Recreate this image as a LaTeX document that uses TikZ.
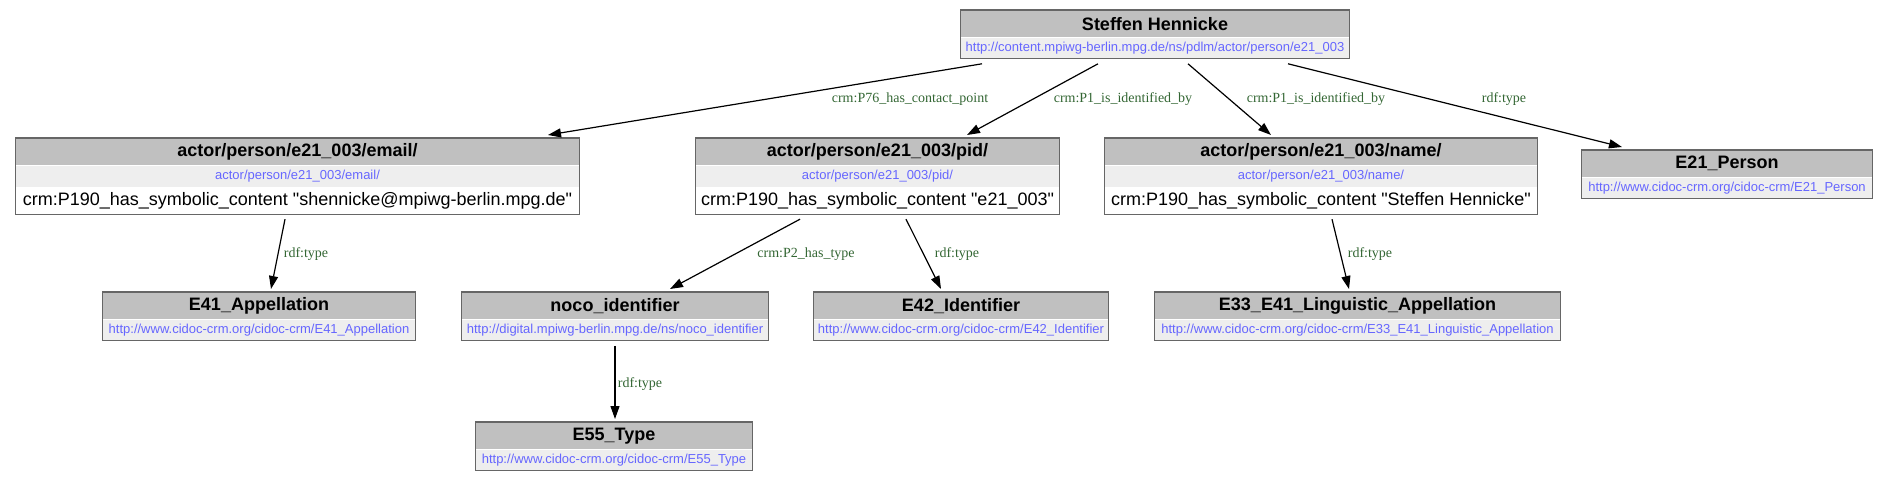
\documentclass[tikz,border=0pt]{standalone}
\usepackage{fontspec}
\setmainfont{Liberation Serif}
\newfontfamily\hfont{Liberation Sans}
\usetikzlibrary{positioning,arrows.meta}

\definecolor{hdrgray}{HTML}{C0C0C0}
\definecolor{rowgray}{HTML}{EEEEEE}
\definecolor{boxgray}{HTML}{666666}
\definecolor{urlblue}{HTML}{6666FF}
\definecolor{lblgreen}{HTML}{336633}

\begin{document}
\begin{tikzpicture}[x=1pt, y=-1pt, >={Triangle[length=13pt,width=9pt]},
    hdr/.style={fill=hdrgray, anchor=north, minimum height=27pt, inner sep=0pt,
      font=\hfont\bfseries\fontsize{18}{20}\selectfont},
    url/.style={fill=rowgray, minimum height=21pt, inner sep=0pt, text=urlblue,
      font=\hfont\fontsize{13}{15}\selectfont},
    lit/.style={fill=white, minimum height=27pt, inner sep=0pt,
      font=\hfont\fontsize{18}{20}\selectfont},
    frame/.style={draw=boxgray, line width=1.2pt},
    edge/.style={->, line width=1.2pt},
    elabel/.style={text=lblgreen, inner sep=0pt, font=\fontsize{14}{16}\selectfont}]
    \useasboundingbox (0,0) rectangle (1887,481);

    % --- 1. 上段 (人物) ---
    \node[hdr, minimum width=388pt] (top-h) at (1155,10) {Steffen Hennicke};
    \node[url, minimum width=388pt, below=0pt of top-h] (top-u) {http://content.mpiwg-berlin.mpg.de/ns/pdlm/actor/person/e21\_003};
    \draw[frame] (top-h.north west) rectangle (top-u.south east);

    % --- 2. 中段 ---
    % email
    \node[hdr, minimum width=563pt] (email-h) at (297.5,138) {actor/person/e21\_003/email/};
    \node[url, minimum width=563pt, below=0pt of email-h] (email-u) {actor/person/e21\_003/email/};
    \node[lit, minimum width=563pt, below=0pt of email-u] (email-l) {crm:P190\_has\_symbolic\_content "shennicke@mpiwg-berlin.mpg.de"};
    \draw[frame] (email-h.north west) rectangle (email-l.south east);

    % pid
    \node[hdr, minimum width=363pt] (pid-h) at (877.5,138) {actor/person/e21\_003/pid/};
    \node[url, minimum width=363pt, below=0pt of pid-h] (pid-u) {actor/person/e21\_003/pid/};
    \node[lit, minimum width=363pt, below=0pt of pid-u] (pid-l) {crm:P190\_has\_symbolic\_content "e21\_003"};
    \draw[frame] (pid-h.north west) rectangle (pid-l.south east);

    % name
    \node[hdr, minimum width=432pt] (name-h) at (1321,138) {actor/person/e21\_003/name/};
    \node[url, minimum width=432pt, below=0pt of name-h] (name-u) {actor/person/e21\_003/name/};
    \node[lit, minimum width=432pt, below=0pt of name-u] (name-l) {crm:P190\_has\_symbolic\_content "Steffen Hennicke"};
    \draw[frame] (name-h.north west) rectangle (name-l.south east);

    % E21
    \node[hdr, minimum width=290pt] (person-h) at (1727,150) {E21\_Person};
    \node[url, minimum width=290pt, below=0pt of person-h] (person-u) {http://www.cidoc-crm.org/cidoc-crm/E21\_Person};
    \draw[frame] (person-h.north west) rectangle (person-u.south east);

    % --- 3. 下段 (型) ---
    \node[hdr, minimum width=312pt] (appel-h) at (259,292) {E41\_Appellation};
    \node[url, minimum width=312pt, below=0pt of appel-h] (appel-u) {http://www.cidoc-crm.org/cidoc-crm/E41\_Appellation};
    \draw[frame] (appel-h.north west) rectangle (appel-u.south east);

    \node[hdr, minimum width=306pt] (noco-h) at (615,292) {noco\_identifier};
    \node[url, minimum width=306pt, below=0pt of noco-h] (noco-u) {http://digital.mpiwg-berlin.mpg.de/ns/noco\_identifier};
    \draw[frame] (noco-h.north west) rectangle (noco-u.south east);

    \node[hdr, minimum width=295pt] (ident-h) at (961,292) {E42\_Identifier};
    \node[url, minimum width=295pt, below=0pt of ident-h] (ident-u) {http://www.cidoc-crm.org/cidoc-crm/E42\_Identifier};
    \draw[frame] (ident-h.north west) rectangle (ident-u.south east);

    \node[hdr, minimum width=405pt] (ling-h) at (1357.5,292) {E33\_E41\_Linguistic\_Appellation};
    \node[url, minimum width=405pt, below=0pt of ling-h] (ling-u) {http://www.cidoc-crm.org/cidoc-crm/E33\_E41\_Linguistic\_Appellation};
    \draw[frame] (ling-h.north west) rectangle (ling-u.south east);

    \node[hdr, minimum width=276pt] (type-h) at (614,422) {E55\_Type};
    \node[url, minimum width=276pt, below=0pt of type-h] (type-u) {http://www.cidoc-crm.org/cidoc-crm/E55\_Type};
    \draw[frame] (type-h.north west) rectangle (type-u.south east);

    % --- 4. 矢印 (始点は枠の少し下, 先端は枠の少し上) ---
    \draw[edge] ([xshift=-173pt,yshift=-5pt]top-u.south) -- ([xshift=250.5pt,yshift=3pt]email-h.north);
    \draw[edge] ([xshift=-57pt,yshift=-5pt]top-u.south) -- ([xshift=89.5pt,yshift=3pt]pid-h.north);
    \draw[edge] ([xshift=33pt,yshift=-5pt]top-u.south) -- ([xshift=-50pt,yshift=3pt]name-h.north);
    \draw[edge] ([xshift=133pt,yshift=-5pt]top-u.south) -- ([xshift=-105pt,yshift=3pt]person-h.north);

    \draw[edge] ([xshift=-12.5pt,yshift=-5pt]email-l.south) -- ([xshift=12pt,yshift=3pt]appel-h.north);
    \draw[edge] ([xshift=-77.5pt,yshift=-5pt]pid-l.south) -- ([xshift=55pt,yshift=3pt]noco-h.north);
    \draw[edge] ([xshift=28.5pt,yshift=-5pt]pid-l.south) -- ([xshift=-20pt,yshift=3pt]ident-h.north);
    \draw[edge] ([xshift=11pt,yshift=-5pt]name-l.south) -- ([xshift=-8.5pt,yshift=3pt]ling-h.north);
    \draw[edge] ([yshift=-5pt]noco-u.south) -- ([xshift=1pt,yshift=3pt]type-h.north);

    % --- 5. ラベル ---
    \node[elabel] (l-contact) at (910,99) {crm:P76\_has\_contact\_point};
    \node[elabel] (l-pid) at (1123,99) {crm:P1\_is\_identified\_by};
    \node[elabel] (l-name) at (1316,99) {crm:P1\_is\_identified\_by};
    \node[elabel] (l-person) at (1504,99) {rdf:type};
    \node[elabel] (l-appel) at (306,254) {rdf:type};
    \node[elabel] (l-noco) at (806,254) {crm:P2\_has\_type};
    \node[elabel] (l-ident) at (957,254) {rdf:type};
    \node[elabel] (l-ling) at (1370,254) {rdf:type};
    \node[elabel] (l-type) at (640,384) {rdf:type};

  \end{tikzpicture}
\end{document}
